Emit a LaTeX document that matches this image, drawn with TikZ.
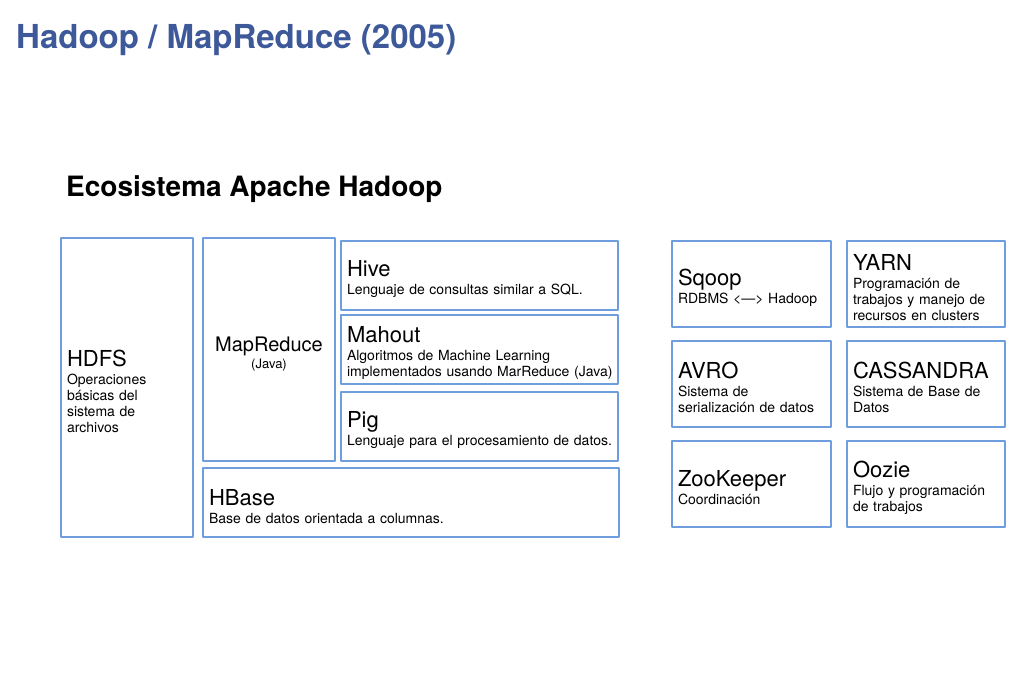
\documentclass[tikz,border=0pt]{standalone}
\usepackage{fontspec}
\setmainfont{TeX Gyre Heros}
\usepackage{tikz}
\definecolor{titleblue}{rgb}{0.24,0.35,0.6}
\definecolor{boxblue}{rgb}{0.43,0.62,0.87}
\newcommand{\btitle}[1]{{\fontsize{22}{17}\selectfont\rule{0pt}{24pt}#1}\\[2pt]}

\begin{document}
\begin{tikzpicture}[x=1pt, y=-1pt, line cap=round, line join=round,
	box/.style={draw=boxblue, line width=2pt, inner xsep=6pt, inner ysep=0pt, align=left, font=\fontsize{14}{16}\selectfont},
	big/.style={anchor=base west, inner sep=0pt, font=\bfseries\fontsize{#1}{#1}\selectfont}]
	\useasboundingbox (0,0) rectangle (1024,683);
	\node[big=33, text=titleblue] (title) at (16,48) {Hadoop / MapReduce (2005)};
	\node[big=28] (eco) at (66,196) {Ecosistema Apache Hadoop};
	\node[box, text width=120pt, minimum height=299pt] (hdfs) at (127,387.5) {\btitle{HDFS}Operaciones\\básicas del\\sistema de\\archivos};
	\node[box, text width=120pt, minimum height=223pt, align=center] (mapreduce) at (269,349.5) {{\fontsize{20}{17}\selectfont\rule{0pt}{24pt}MapReduce}\\[1pt]{\fontsize{13}{15}\selectfont (Java)}};
	\node[box, text width=265pt, minimum height=69pt] (hive) at (479.5,275.5) {\btitle{Hive}Lenguaje de consultas similar a SQL.};
	\node[box, text width=265pt, minimum height=69pt] (mahout) at (479.5,349.5) {\btitle{Mahout}Algoritmos de Machine Learning\\\mbox{implementados usando MarReduce (Java)}};
	\node[box, text width=265pt, minimum height=69pt] (pig) at (479.5,426.5) {\btitle{Pig}Lenguaje para el procesamiento de datos.};
	\node[box, text width=404pt, minimum height=69pt] (hbase) at (411,502.5) {\btitle{HBase}Base de datos orientada a columnas.};
	\node[box, text width=147pt, minimum height=86pt] (sqoop) at (751.5,284) {\btitle{Sqoop}RDBMS <—> Hadoop};
	\node[box, text width=146pt, minimum height=86pt] (yarn) at (926,284) {\btitle{YARN}Programación de\\trabajos y manejo de\\recursos en clusters};
	\node[box, text width=147pt, minimum height=86pt] (avro) at (751.5,384) {\btitle{AVRO}Sistema de\\serialización de datos};
	\node[box, text width=146pt, minimum height=86pt] (cassandra) at (926,384) {\btitle{CASSANDRA}Sistema de Base de\\Datos};
	\node[box, text width=147pt, minimum height=86pt] (zookeeper) at (751.5,484) {\btitle{ZooKeeper}Coordinación};
	\node[box, text width=146pt, minimum height=86pt] (oozie) at (926,484) {\btitle{Oozie}Flujo y programación\\de trabajos};
\end{tikzpicture}
\end{document}
